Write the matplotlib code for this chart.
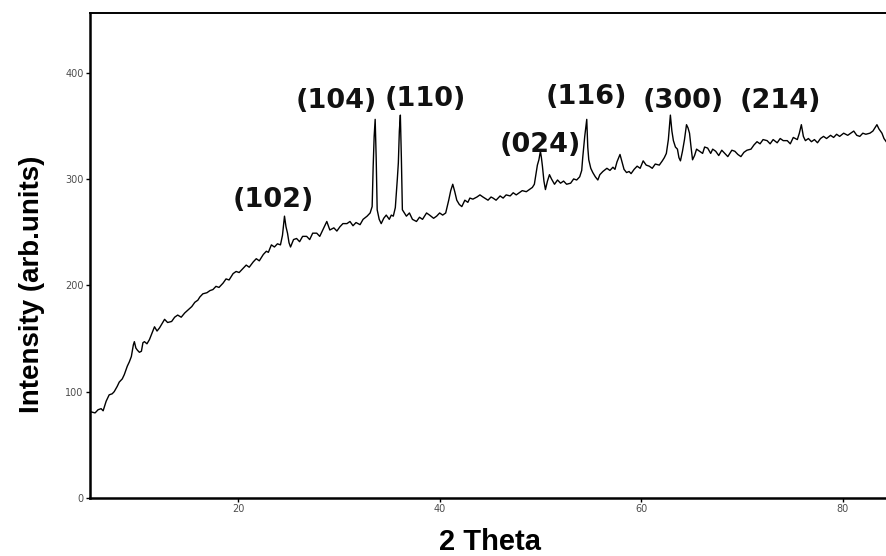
import matplotlib
matplotlib.use('Agg')
import matplotlib.pyplot as plt

# XRD 图谱数据
two_theta = [5.3, 5.4, 5.8, 6.1, 6.4, 6.6, 6.9, 7.2, 7.5, 7.7, 8.0, 8.2, 8.5, 8.7, 9.0, 9.2, 9.4, 9.6, 9.7,
             9.85, 10.0, 10.2, 10.4, 10.55, 10.7, 10.95, 11.2, 11.45, 11.7, 11.95, 12.2, 12.45, 12.7, 13.0,
             13.4, 13.7, 14.0, 14.35, 14.7, 15.05, 15.4, 15.7, 16.0, 16.2, 16.5, 16.9, 17.2, 17.5, 17.8,
             18.1, 18.5, 18.8, 19.1, 19.5, 19.8, 20.1, 20.5, 20.8, 21.1, 21.5, 21.8, 22.1, 22.5, 22.8,
             23.0, 23.3, 23.6, 23.9, 24.2, 24.4, 24.6, 24.75, 24.9, 25.05, 25.2, 25.5, 25.8, 26.1, 26.4,
             26.8, 27.1, 27.4, 27.8, 28.1, 28.4, 28.8, 29.1, 29.5, 29.8, 30.1, 30.4, 30.8, 31.1, 31.4,
             31.7, 32.1, 32.4, 32.8, 33.1, 33.3, 33.4, 33.5, 33.6, 33.7, 33.8, 34.0, 34.2, 34.45, 34.7,
             35.0, 35.2, 35.4, 35.6, 35.8, 35.9, 36.0, 36.1, 36.2, 36.3, 36.5, 36.7, 37.0, 37.3, 37.7,
             38.0, 38.3, 38.7, 39.0, 39.4, 39.7, 40.0, 40.3, 40.6, 40.9, 41.1, 41.3, 41.5, 41.7, 41.95,
             42.2, 42.5, 42.8, 43.0, 43.3, 43.7, 44.0, 44.3, 44.8, 45.1, 45.3, 45.6, 46.0, 46.3, 46.6,
             47.0, 47.3, 47.6, 47.9, 48.2, 48.6, 48.9, 49.2, 49.4, 49.55, 49.7, 49.85, 50.0, 50.1, 50.2,
             50.35, 50.5, 50.7, 50.9, 51.1, 51.4, 51.7, 52.0, 52.3, 52.6, 53.0, 53.3, 53.6, 53.9, 54.1,
             54.2, 54.4, 54.6, 54.7, 54.8, 55.0, 55.2, 55.45, 55.7, 55.9, 56.2, 56.6, 56.9, 57.2, 57.4,
             57.6, 57.9, 58.1, 58.3, 58.55, 58.8, 59.0, 59.3, 59.6, 59.9, 60.2, 60.5, 60.8, 61.1, 61.4,
             61.8, 62.1, 62.3, 62.5, 62.7, 62.9, 63.05, 63.2, 63.4, 63.6, 63.75, 63.9, 64.1, 64.3, 64.5,
             64.65, 64.8, 64.95, 65.1, 65.3, 65.5, 65.8, 66.1, 66.3, 66.6, 66.9, 67.1, 67.4, 67.7, 68.0,
             68.3, 68.6, 69.0, 69.3, 69.6, 69.9, 70.2, 70.5, 70.9, 71.2, 71.5, 71.8, 72.1, 72.5, 72.8,
             73.1, 73.5, 73.8, 74.1, 74.5, 74.8, 75.1, 75.5, 75.7, 75.9, 76.1, 76.3, 76.6, 76.9, 77.2,
             77.5, 77.8, 78.1, 78.4, 78.8, 79.1, 79.4, 79.7, 80.1, 80.5, 80.8, 81.1, 81.4, 81.7, 82.0,
             82.3, 82.7, 83.0, 83.2, 83.4, 83.6, 83.9, 84.1, 84.4]
intensity = [80, 81, 80, 83, 84, 82, 91, 97, 98, 100, 105, 109, 112, 116, 124, 128, 133, 144, 147,
             141, 139, 137, 138, 146, 147, 145, 149, 155, 161, 157, 160, 164, 168, 165,
             166, 170, 172, 170, 174, 177, 180, 184, 186, 189, 192, 193, 195, 196, 199,
             198, 202, 206, 205, 211, 213, 212, 216, 219, 217, 222, 225, 223, 229, 232,
             231, 238, 236, 239, 238, 247, 265, 255, 249, 240, 236, 243, 244, 241, 246,
             246, 243, 249, 249, 246, 252, 260, 252, 254, 251, 255, 258, 258, 260, 256,
             259, 257, 262, 265, 268, 274, 311, 340, 356, 320, 271, 262, 258, 263, 266,
             262, 266, 265, 273, 300, 315, 345, 360, 320, 271, 268, 265, 268, 262, 260,
             264, 262, 268, 266, 263, 265, 268, 266, 268, 280, 289, 295, 288, 280, 276,
             274, 280, 278, 282, 281, 283, 285, 283, 280, 283, 282, 280, 284, 282, 285,
             284, 287, 285, 287, 289, 288, 290, 292, 295, 304, 313, 318, 326, 320, 312,
             298, 290, 298, 304, 300, 295, 299, 296, 298, 295, 296, 300, 299, 302, 308,
             320, 340, 356, 330, 318, 310, 306, 302, 299, 304, 307, 310, 308, 311, 309,
             316, 323, 316, 309, 306, 307, 305, 309, 312, 310, 317, 313, 312, 310, 314,
             313, 317, 320, 324, 337, 360, 345, 336, 330, 328, 320, 317, 326, 337, 351,
             348, 343, 330, 318, 322, 328, 326, 324, 330, 329, 324, 328, 326, 322, 327,
             324, 321, 327, 326, 323, 321, 325, 327, 328, 332, 335, 333, 337, 336, 333,
             337, 334, 338, 336, 336, 333, 339, 337, 343, 351, 340, 336, 338, 335, 337,
             334, 338, 340, 338, 341, 339, 342, 340, 343, 341, 343, 345, 341, 340, 343,
             342, 343, 345, 348, 351, 347, 343, 338, 334]

# 晶面标注
peak_labels = ['(102)', '(104)', '(110)', '(024)', '(116)', '(300)', '(214)']
label_x = [23.5, 29.7, 38.6, 50.0, 54.6, 64.2, 73.8]
label_y = [280, 373, 375, 332, 377, 373, 373]

fig = plt.figure(figsize=(8.87, 5.56), dpi=100)
ax = fig.add_axes([0.1015, 0.1043, 0.8985, 0.8723])

ax.plot(two_theta, intensity, color='black', linewidth=1.0)

for lab, lx, ly in zip(peak_labels, label_x, label_y):
    ax.text(lx, ly, lab, fontsize=19.5, fontweight='bold', ha='center', va='center',
            family='DejaVu Sans', color='#111111')

ax.set_xlim(5.3, 84.4)
ax.set_ylim(0, 456)
ax.set_xticks([20, 40, 60, 80])
ax.set_yticks([0, 100, 200, 300, 400])

ax.spines['right'].set_visible(False)
ax.spines['left'].set_linewidth(1.8)
ax.spines['bottom'].set_linewidth(1.8)
ax.spines['top'].set_linewidth(1.4)
ax.tick_params(axis='both', length=3, width=1, labelsize=7, labelcolor='#4d4d4d', pad=1.5)

ax.set_xlabel('2 Theta', fontsize=21, fontweight='bold', family='Liberation Sans')
ax.set_ylabel('Intensity (arb.units)', fontsize=20, fontweight='bold', family='Liberation Sans')
ax.xaxis.set_label_coords(0.502, -0.062)
ax.yaxis.set_label_coords(-0.056, 0.44)

fig.savefig('out.png', dpi=100)
